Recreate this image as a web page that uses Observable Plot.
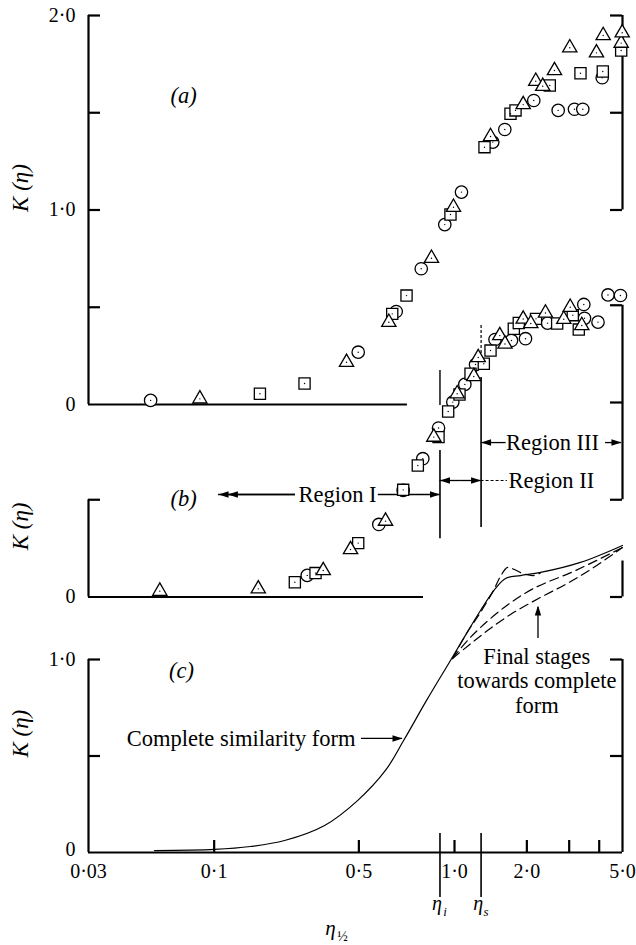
<!DOCTYPE html>
<html>
<head>
<meta charset="utf-8">
<script src="https://cdn.jsdelivr.net/npm/d3@7"></script>
<script src="https://cdn.jsdelivr.net/npm/@observablehq/plot@0.6"></script>
<style>
  html, body { margin: 0; padding: 0; background: #fff; }
  #figure { position: relative; width: 636px; height: 945px; }
  #figure svg { position: absolute; left: 0; top: 0; }
</style>
</head>
<body>
<div id="figure"></div>
<script>
// ---- Panel (a): K(eta) against eta^1/2, three experiment series ----
const aCircles = [[0.0544,0.021],[0.3975,0.269],[0.572,0.478],[0.727,0.698],[0.911,0.925],[1.069,1.092],[1.443,1.349],[1.619,1.414],[2.137,1.563],[2.700,1.512],[3.156,1.518],[3.418,1.518],[4.116,1.680]];
const aTriangles = [[0.0872,0.029],[0.3554,0.217],[0.533,0.423],[0.802,0.752],[0.990,1.014],[1.412,1.378],[1.931,1.542],[2.178,1.662],[2.329,1.636],[2.606,1.717],[3.017,1.834],[3.896,1.808],[4.155,1.897],[4.937,1.858],[4.985,1.911]];
const aSquares = [[0.155,0.055],[0.2377,0.108],[0.5506,0.466],[0.6315,0.560],[0.962,0.977],[1.333,1.323],[1.710,1.495],[1.794,1.512],[2.491,1.640],[3.343,1.703],[4.140,1.712],[4.937,1.820]];

// ---- Panel (b) ----
const bCircles = [[0.2439,0.111],[0.4843,0.373],[0.6116,0.548],[0.738,0.711],[0.858,0.869],[0.984,1.002],[1.104,1.093],[1.223,1.195],[1.474,1.324],[1.726,1.319],[1.974,1.328],[2.438,1.408],[3.451,1.504],[3.474,1.433],[3.954,1.413],[4.351,1.553],[4.903,1.550]];
const bTriangles = [[0.0594,0.030],[0.1526,0.042],[0.2843,0.136],[0.3693,0.244],[0.5164,0.390],[0.820,0.822],[1.026,1.045],[1.203,1.134],[1.255,1.231],[1.543,1.344],[1.622,1.301],[1.931,1.429],[2.077,1.406],[2.390,1.460],[2.849,1.428],[3.029,1.490],[3.385,1.396]];
const bSquares = [[0.2166,0.076],[0.2641,0.123],[0.3975,0.277],[0.6116,0.551],[0.7036,0.676],[0.858,0.822],[0.941,0.954],[1.049,1.041],[1.166,1.148],[1.324,1.199],[1.412,1.267],[1.765,1.379],[1.851,1.409],[2.183,1.430],[2.674,1.406],[3.105,1.449],[3.289,1.375]];

// ---- Panel (c): complete similarity form and final stages ----
const similarityForm = [[0.0565,0.010],[0.1004,0.016],[0.1417,0.031],[0.1963,0.062],[0.288,0.140],[0.395,0.269],[0.516,0.425],[0.614,0.580],[0.765,0.788],[0.962,0.995],[1.122,1.135],[1.283,1.254],[1.481,1.368],[1.630,1.420],[1.882,1.435],[2.28,1.451],[3.34,1.503],[5.0,1.591]];
const stageA = [[0.981,1.005],[1.122,1.135],[1.283,1.244],[1.453,1.358],[1.554,1.431],[1.662,1.477],[1.777,1.466],[1.918,1.446],[2.132,1.435],[2.28,1.448]];
const stageB = [[0.981,1.005],[1.122,1.093],[1.283,1.166],[1.630,1.275],[2.132,1.368],[3.187,1.461],[5.0,1.580]];
const stageC = [[0.981,1.005],[1.144,1.073],[1.372,1.150],[1.710,1.233],[2.236,1.316],[2.895,1.389],[3.679,1.466],[5.0,1.580]];

// ---- Axis ticks and labels ----
const etaI = 0.87, etaS = 1.29;
const xTicks = [0.1, 0.4, 1, 2, 3, 4];
const xTickLabels = [
  {v: 0.03, t: "0·03"}, {v: 0.1, t: "0·1"}, {v: 0.4, t: "0·5"},
  {v: 1, t: "1·0"}, {v: 2, t: "2·0"}, {v: 5, t: "5·0"}
];
const aYLabels = [{v: 0, t: "0"}, {v: 1, t: "1·0"}, {v: 2, t: "2·0"}];
const bYLabels = [{v: 0, t: "0"}];
const cYLabels = [{v: 0, t: "0"}, {v: 1, t: "1·0"}];

const W = 636, H = 945, LEFT = 88, RIGHT = 622;
const frameW = RIGHT - LEFT, tickLen = 12;
const serif = "'Liberation Serif', 'Times New Roman', serif";
const AX = 2.2, TXT = 22.5;

// filled arrowheads, tip at the symbol origin
const head = (dx, dy) => ({
  draw(ctx) {
    const l = 10, w = 3.2, px = -dy, py = dx;
    ctx.moveTo(0, 0);
    ctx.lineTo(-dx * l + px * w, -dy * l + py * w);
    ctx.lineTo(-dx * l - px * w, -dy * l - py * w);
    ctx.closePath();
  }
});
const HEAD_LEFT = head(-1, 0), HEAD_RIGHT = head(1, 0), HEAD_UP = head(0, -1);

const leftTicks = v => Plot.tickY(v, {y: d => d, insetRight: frameW - tickLen, strokeWidth: AX});
const rightTicks = v => Plot.tickY(v, {y: d => d, insetLeft: frameW - tickLen, strokeWidth: AX});
const yLabels = (v, dy = 0) => Plot.text(v, {y: "v", text: "t", frameAnchor: "left", dx: -13, dy, textAnchor: "end", fontSize: 20, fontFamily: serif});
const kLabel = k => Plot.text([k], {y: d => d, text: () => "K (η)", frameAnchor: "left", dx: -68, rotate: -90, fontSize: 23, fontStyle: "italic", fontFamily: serif});
const series = (data, symbol, r) => [
  Plot.dot(data, {x: d => d[0], y: d => d[1], symbol, r, stroke: "black", strokeWidth: 1.3, fill: "white"}),
  Plot.dot(data, {x: d => d[0], y: d => d[1], r: 0.7, fill: "black"})
];
const label = (x, y, text, opts = {}) => Plot.text([0], {x: () => x, y: () => y, text: () => text, fontSize: TXT, fontFamily: serif, ...opts});
const hArrow = (x1, x2, y) => [
  Plot.ruleY([y], {x1, x2, strokeWidth: 1.3}),
  Plot.dot([0], {x: () => x2, y: () => y, symbol: x2 < x1 ? HEAD_LEFT : HEAD_RIGHT, fill: "black", stroke: "none"})
];

function panel(yDomain, top, bottom, marks) {
  return Plot.plot({
    width: W, height: H,
    marginLeft: LEFT, marginRight: W - RIGHT, marginTop: top, marginBottom: H - bottom,
    x: {type: "log", domain: [0.03, 5], axis: null},
    y: {domain: yDomain, axis: null},
    style: {background: "none", overflow: "visible", fontFamily: serif},
    marks
  });
}

const fig = document.getElementById("figure");

// Panel (a)
fig.append(panel([0, 2], 15, 404, [
  Plot.ruleX([0.03], {y1: 0, y2: 2, strokeWidth: AX}),
  leftTicks([0.5, 1, 1.5, 2]),
  Plot.ruleY([0], {x1: 0.03, x2: 0.637, strokeWidth: AX}),
  Plot.ruleX([5], {y1: 1, y2: 2, strokeWidth: AX}),
  rightTicks([1, 1.5, 2]),
  yLabels(aYLabels),
  kLabel(0.99),
  label(0.0746, 1.589, "(a)", {fontStyle: "italic"}),
  ...series(aCircles, "circle", 6.2),
  ...series(aSquares, "square", 6.3),
  ...series(aTriangles, "triangle", 5.3)
]));

// Panel (b)
const yB = 596.5, unit = 194.5;
fig.append(panel([0, 1.5], yB - 1.5 * unit, yB, [
  Plot.ruleX([0.03], {y1: 0, y2: 0.5, strokeWidth: AX}),
  leftTicks([0.5]),
  Plot.ruleY([0], {x1: 0.03, x2: 0.743, strokeWidth: AX}),
  Plot.ruleX([5], {y1: 0.5, y2: 1.5, strokeWidth: AX}),
  Plot.ruleX([5], {y1: 0, y2: 0.185, strokeWidth: AX}),
  rightTicks([0, 0.5, 1, 1.5]),
  yLabels(bYLabels),
  kLabel(0.24),
  label(0.0746, 0.506, "(b)", {fontStyle: "italic"}),
  // region boundaries
  Plot.ruleX([etaI], {y1: 0.30, y2: 0.753, strokeWidth: 1.6}),
  Plot.ruleX([etaI], {y1: 0.985, y2: 1.165, strokeWidth: 1.4}),
  Plot.ruleX([etaS], {y1: 0.357, y2: 1.128, strokeWidth: 1.6}),
  Plot.ruleX([etaS], {y1: 1.252, y2: 1.406, strokeWidth: 1.2, strokeDasharray: "3,2"}),
  // Region I
  label(0.326, 0.527, "Region I"),
  ...hArrow(0.218, 0.1043, 0.527),
  ...hArrow(0.218, 0.114, 0.527),
  ...hArrow(0.482, etaI, 0.527),
  // Region II
  ...hArrow(1.06, etaI, 0.599),
  ...hArrow(1.06, etaS, 0.599),
  Plot.ruleY([0.599], {x1: etaS, x2: 1.66, strokeWidth: 1, strokeDasharray: "3,2"}),
  label(2.53, 0.599, "Region II"),
  // Region III
  label(2.557, 0.794, "Region III"),
  ...hArrow(1.64, etaS, 0.794),
  ...hArrow(4.25, 4.95, 0.794),
  ...series(bCircles, "circle", 6.2),
  ...series(bSquares, "square", 6.3),
  ...series(bTriangles, "triangle", 5.3)
]));

// Panel (c)
fig.append(panel([0, 1], 659, 852, [
  Plot.ruleX([0.03], {y1: 0, y2: 1, strokeWidth: AX}),
  leftTicks([0.5, 1]),
  Plot.ruleX([5], {y1: 0, y2: 1, strokeWidth: AX}),
  rightTicks([0.5, 1]),
  Plot.ruleY([0], {x1: 0.03, x2: 5, strokeWidth: AX}),
  Plot.tickX(xTicks, {x: d => d, insetTop: (852 - 659) - tickLen, strokeWidth: AX}),
  Plot.text(xTickLabels, {x: "v", text: "t", frameAnchor: "bottom", dy: 25, fontSize: 20, fontFamily: serif}),
  Plot.ruleX([etaI, etaS], {y1: 0.098, y2: -0.233, strokeWidth: 1.6}),
  Plot.text([etaI, etaS], {x: d => d, text: () => "η", frameAnchor: "bottom", dy: 57, dx: -3, fontSize: 20, fontStyle: "italic", fontFamily: serif}),
  Plot.text([{v: etaI, t: "i"}, {v: etaS, t: "s"}], {x: "v", text: "t", frameAnchor: "bottom", dy: 63, dx: 5, fontSize: 13, fontStyle: "italic", fontFamily: serif}),
  Plot.text([0.305], {x: d => d, text: () => "η", frameAnchor: "bottom", dy: 82, fontSize: 21, fontStyle: "italic", fontFamily: serif}),
  Plot.text([0.305], {x: d => d, text: () => "½", frameAnchor: "bottom", dy: 88, dx: 12, fontSize: 14, fontFamily: serif}),
  yLabels(cYLabels.slice(1)),
  yLabels(cYLabels.slice(0, 1), -3),
  kLabel(0.492),
  label(0.0732, 0.943, "(c)", {fontStyle: "italic"}),
  Plot.line(similarityForm, {x: d => d[0], y: d => d[1], curve: "catmull-rom", strokeWidth: 1.2}),
  Plot.line(stageA, {x: d => d[0], y: d => d[1], curve: "catmull-rom", strokeWidth: 1.2, strokeDasharray: "9,5"}),
  Plot.line(stageB, {x: d => d[0], y: d => d[1], curve: "catmull-rom", strokeWidth: 1.2, strokeDasharray: "9,5"}),
  Plot.line(stageC, {x: d => d[0], y: d => d[1], curve: "catmull-rom", strokeWidth: 1.2, strokeDasharray: "9,5"}),
  label(0.3875, 0.591, "Complete similarity form", {textAnchor: "end"}),
  ...hArrow(0.410, 0.6077, 0.591),
  label(2.2, 0.891, "Final stages\ntowards complete\nform", {lineHeight: 1.1}),
  Plot.ruleX([2.225], {y1: 1.109, y2: 1.27, strokeWidth: 1.3}),
  Plot.dot([0], {x: () => 2.225, y: () => 1.28, symbol: HEAD_UP, fill: "black", stroke: "none"})
]));
</script>
</body>
</html>
